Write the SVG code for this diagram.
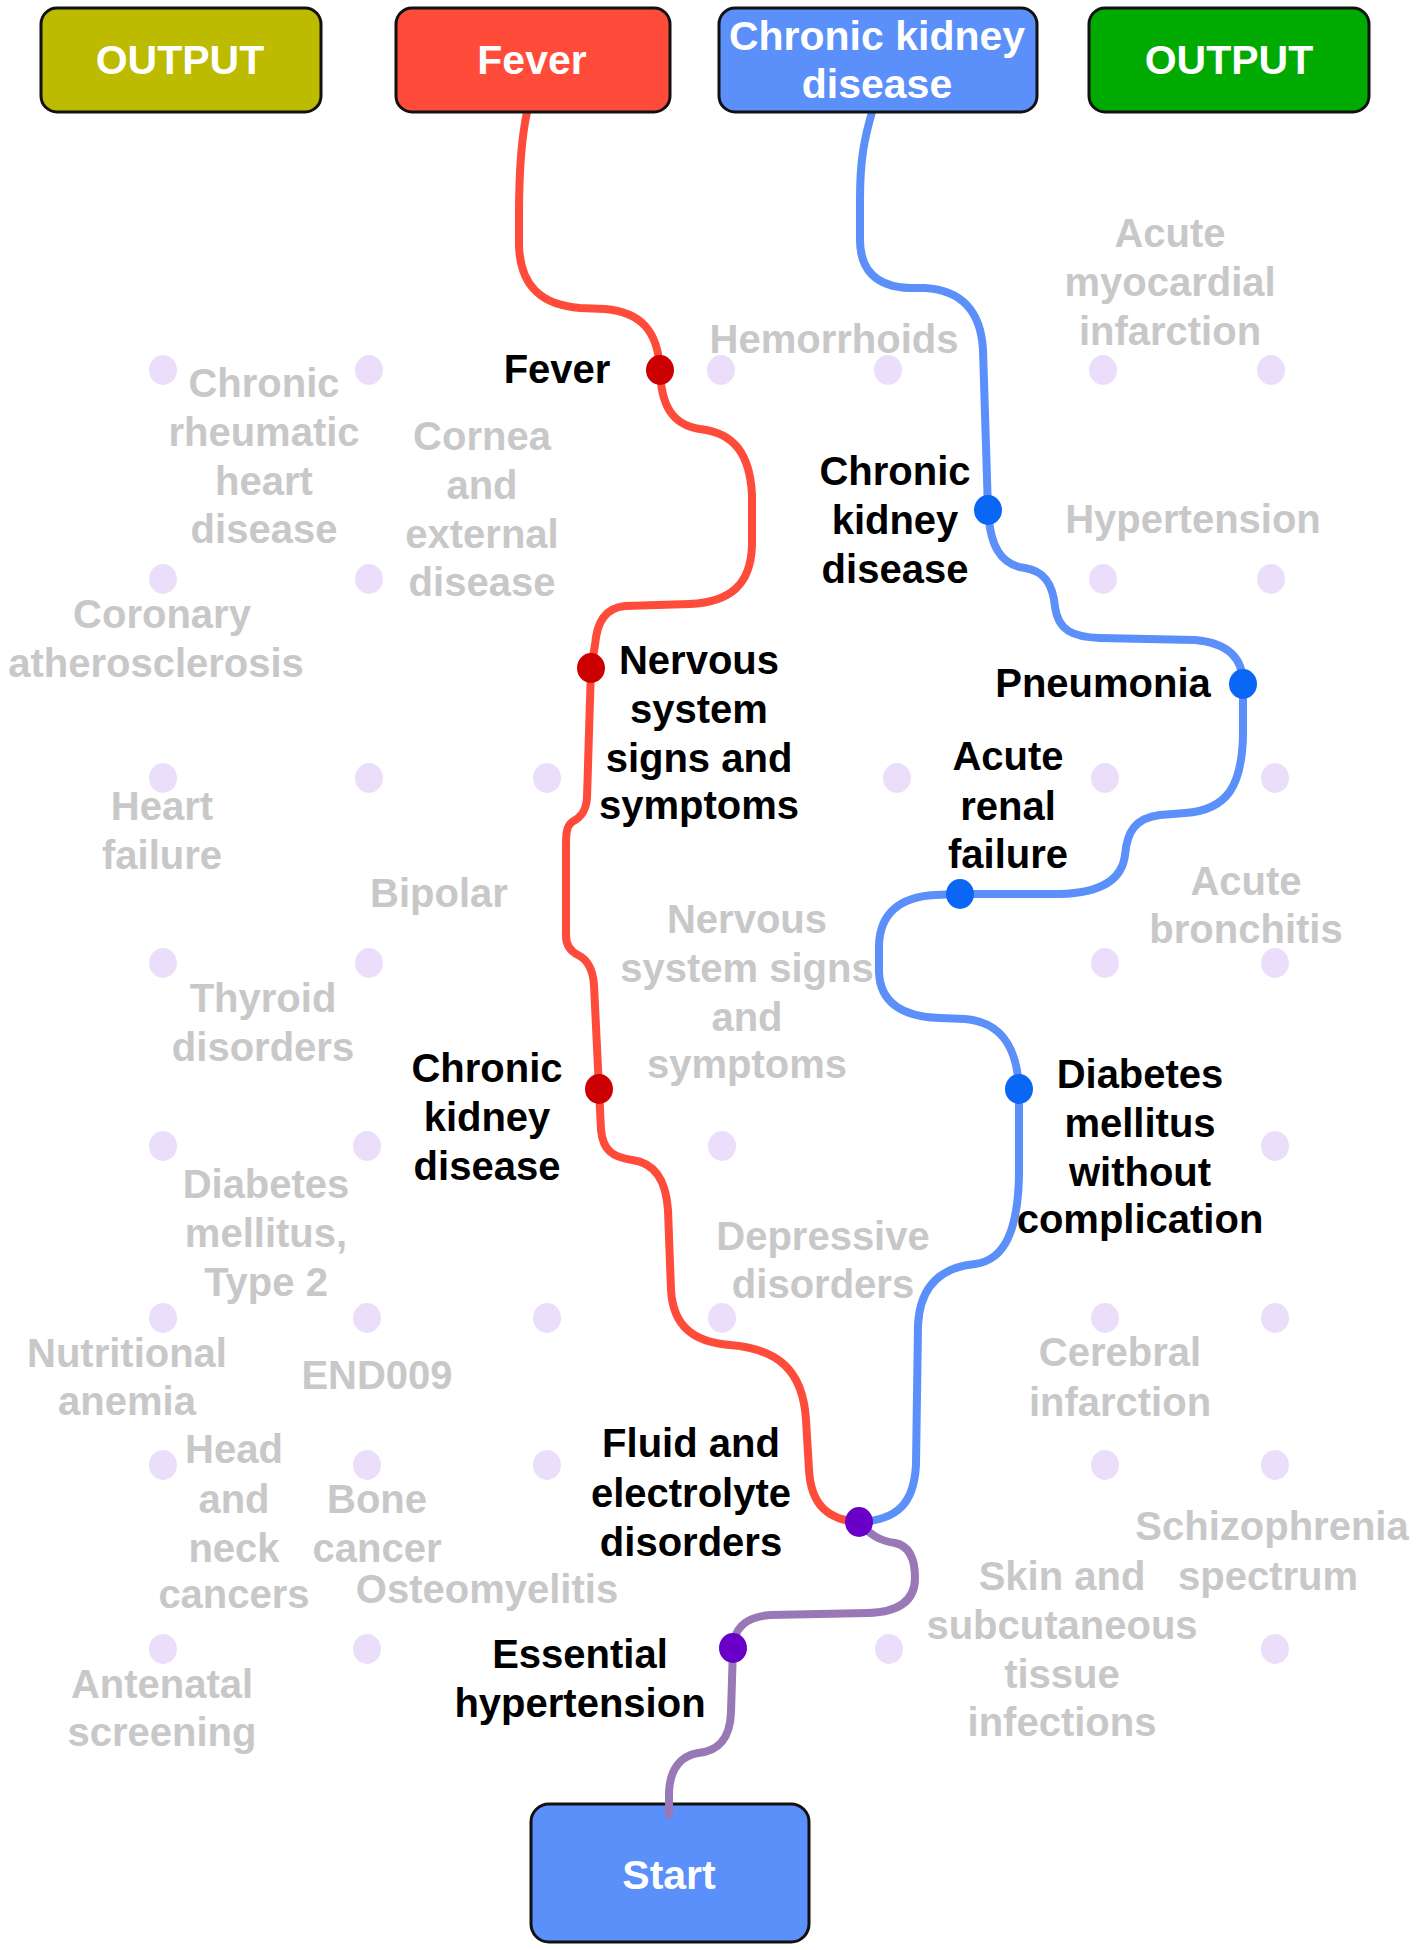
<svg xmlns="http://www.w3.org/2000/svg" width="1416" height="1950" viewBox="0 0 1416 1950">
  <style>
    text { font-family: "Liberation Sans", Arial, sans-serif; font-weight: bold; text-anchor: middle; }
    .box { stroke: #111; stroke-width: 3; }
    .boxtxt { fill: #fff; font-size: 41px; }
    .lbl { fill: #000; font-size: 40px; }
    .ghost { fill: #c8c8c8; font-size: 40px; }
    .grid ellipse { fill: #ebdefb; }
    .wire { fill: none; stroke-width: 8; stroke-linecap: round; stroke-linejoin: round; }
    .red { stroke: #ff4b3a; }
    .blue { stroke: #5b8ff9; }
    .purple { stroke: #9878b6; }
    .dot-red { fill: #cc0000; }
    .dot-blue { fill: #0a66f5; }
    .dot-purple { fill: #6a00c8; }
  </style>
  <rect width="1416" height="1950" fill="#fff"/>

  <!-- background grid of unused positions -->
  <g class="grid" id="grid">
    <ellipse cx="163" cy="370" rx="14" ry="15"/><ellipse cx="369" cy="370" rx="14" ry="15"/>
    <ellipse cx="721" cy="370" rx="14" ry="15"/><ellipse cx="888" cy="370" rx="14" ry="15"/>
    <ellipse cx="1103" cy="370" rx="14" ry="15"/><ellipse cx="1271" cy="370" rx="14" ry="15"/>

    <ellipse cx="163" cy="579" rx="14" ry="15"/><ellipse cx="369" cy="579" rx="14" ry="15"/>
    <ellipse cx="1103" cy="579" rx="14" ry="15"/><ellipse cx="1271" cy="579" rx="14" ry="15"/>

    <ellipse cx="163" cy="778" rx="14" ry="15"/><ellipse cx="369" cy="778" rx="14" ry="15"/>
    <ellipse cx="547" cy="778" rx="14" ry="15"/><ellipse cx="897" cy="778" rx="14" ry="15"/>
    <ellipse cx="1105" cy="778" rx="14" ry="15"/><ellipse cx="1275" cy="778" rx="14" ry="15"/>

    <ellipse cx="163" cy="963" rx="14" ry="15"/><ellipse cx="369" cy="963" rx="14" ry="15"/>
    <ellipse cx="1105" cy="963" rx="14" ry="15"/><ellipse cx="1275" cy="963" rx="14" ry="15"/>

    <ellipse cx="163" cy="1146" rx="14" ry="15"/><ellipse cx="367" cy="1146" rx="14" ry="15"/>
    <ellipse cx="722" cy="1146" rx="14" ry="15"/><ellipse cx="1275" cy="1146" rx="14" ry="15"/>

    <ellipse cx="163" cy="1318" rx="14" ry="15"/><ellipse cx="367" cy="1318" rx="14" ry="15"/>
    <ellipse cx="547" cy="1318" rx="14" ry="15"/><ellipse cx="722" cy="1318" rx="14" ry="15"/>
    <ellipse cx="1105" cy="1318" rx="14" ry="15"/><ellipse cx="1275" cy="1318" rx="14" ry="15"/>

    <ellipse cx="163" cy="1465" rx="14" ry="15"/><ellipse cx="367" cy="1465" rx="14" ry="15"/>
    <ellipse cx="547" cy="1465" rx="14" ry="15"/><ellipse cx="1105" cy="1465" rx="14" ry="15"/>
    <ellipse cx="1275" cy="1465" rx="14" ry="15"/>

    <ellipse cx="163" cy="1649" rx="14" ry="15"/><ellipse cx="367" cy="1649" rx="14" ry="15"/>
    <ellipse cx="889" cy="1649" rx="14" ry="15"/><ellipse cx="1275" cy="1649" rx="14" ry="15"/>
  </g>

  <!-- inactive condition labels -->
  <g id="inactive-labels" class="ghost">
    <text x="264"><tspan x="264" y="397">Chronic</tspan><tspan x="264" y="446">rheumatic</tspan><tspan x="264" y="495">heart</tspan><tspan x="264" y="543">disease</tspan></text>
    <text x="482"><tspan x="482" y="450">Cornea</tspan><tspan x="482" y="499">and</tspan><tspan x="482" y="548">external</tspan><tspan x="482" y="596">disease</tspan></text>
    <text x="157"><tspan x="162" y="628">Coronary</tspan><tspan x="156" y="677">atherosclerosis</tspan></text>
    <text x="162"><tspan x="162" y="820">Heart</tspan><tspan x="162" y="869">failure</tspan></text>
    <text x="439" y="907">Bipolar</text>
    <text x="263"><tspan x="263" y="1012">Thyroid</tspan><tspan x="263" y="1061">disorders</tspan></text>
    <text x="266"><tspan x="266" y="1198">Diabetes</tspan><tspan x="266" y="1247">mellitus,</tspan><tspan x="266" y="1296">Type 2</tspan></text>
    <text x="127"><tspan x="127" y="1367">Nutritional</tspan><tspan x="127" y="1415">anemia</tspan></text>
    <text x="377" y="1389">END009</text>
    <text x="234"><tspan x="234" y="1463">Head</tspan><tspan x="234" y="1513">and</tspan><tspan x="234" y="1562">neck</tspan><tspan x="234" y="1608">cancers</tspan></text>
    <text x="377"><tspan x="377" y="1513">Bone</tspan><tspan x="377" y="1562">cancer</tspan></text>
    <text x="487" y="1603">Osteomyelitis</text>
    <text x="162"><tspan x="162" y="1698">Antenatal</tspan><tspan x="162" y="1746">screening</tspan></text>
    <text x="834" y="353">Hemorrhoids</text>
    <text x="1170"><tspan x="1170" y="247">Acute</tspan><tspan x="1170" y="296">myocardial</tspan><tspan x="1170" y="345">infarction</tspan></text>
    <text x="1193" y="533">Hypertension</text>
    <text x="1246"><tspan x="1246" y="895">Acute</tspan><tspan x="1246" y="943">bronchitis</tspan></text>
    <text x="747"><tspan x="747" y="933">Nervous</tspan><tspan x="747" y="982">system signs</tspan><tspan x="747" y="1031">and</tspan><tspan x="747" y="1078">symptoms</tspan></text>
    <text x="823"><tspan x="823" y="1250">Depressive</tspan><tspan x="823" y="1298">disorders</tspan></text>
    <text x="1120"><tspan x="1120" y="1366">Cerebral</tspan><tspan x="1120" y="1416">infarction</tspan></text>
    <text x="1270"><tspan x="1272" y="1540">Schizophrenia</tspan><tspan x="1268" y="1590">spectrum</tspan></text>
    <text x="1062"><tspan x="1062" y="1590">Skin and</tspan><tspan x="1062" y="1639">subcutaneous</tspan><tspan x="1062" y="1688">tissue</tspan><tspan x="1062" y="1736">infections</tspan></text>
  </g>

  <!-- start box sits under the incoming trajectory tip -->
  <g id="box-start">
    <rect class="box" x="531" y="1804" width="278" height="138" rx="18" fill="#5b8ff9"/>
    <text class="boxtxt" x="669" y="1889">Start</text>
  </g>

  <!-- trajectories -->
  <g id="connectors">
    <path class="wire red" d="M 527 112 C 521 140, 519 170, 519 215 L 519 245 C 520 285, 540 305, 580 308 L 605 309 C 640 312, 658 330, 660 370
             C 661 405, 672 425, 700 429 C 735 433, 750 455, 752 495 L 752 545 C 751 585, 730 602, 690 604 L 625 606 C 605 608, 597 622, 595 645 L 591 668
             L 587 798 C 586 812, 580 818, 572 822 C 567 826, 566 832, 566 845 L 566 936 C 566 945, 570 951, 578 955 C 588 960, 593 970, 594 985 L 599 1089
             L 601 1130 C 603 1150, 612 1157, 632 1160 C 655 1163, 666 1180, 668 1210 L 671 1290 C 673 1325, 692 1342, 730 1345
             C 778 1349, 803 1370, 806 1420 L 809 1470 C 811 1505, 828 1520, 859 1522"/>
    <path class="wire blue" d="M 872 112 C 864 140, 860 160, 860 200 L 860 240 C 860 270, 876 287, 910 288 L 925 288 C 962 290, 981 312, 983 350 L 988 510
             C 990 545, 1000 565, 1025 568 C 1045 571, 1053 585, 1055 607 C 1058 630, 1072 637, 1100 638 L 1195 640 C 1228 643, 1243 658, 1243 684
             L 1243 735 C 1242 785, 1228 810, 1185 813 L 1160 815 C 1135 818, 1127 832, 1125 855 C 1122 880, 1100 893, 1060 894 L 960 894
             L 935 895 C 900 897, 880 913, 879 945 L 879 972 C 880 1003, 903 1017, 940 1018 L 965 1019 C 1000 1022, 1017 1045, 1019 1089
             L 1019 1175 C 1018 1230, 1005 1260, 975 1264 C 942 1267, 920 1285, 918 1325 L 916 1465 C 914 1503, 898 1520, 859 1522"/>
    <path class="wire purple" d="M 859 1522 C 870 1535, 880 1541, 895 1543 C 910 1546, 915 1560, 915 1578 C 915 1600, 900 1612, 868 1613 L 770 1615
             C 745 1617, 734 1628, 733 1648 L 731 1712 C 730 1742, 716 1751, 698 1753 C 680 1756, 670 1770, 669 1792 L 669 1815"/>
  </g>

  <!-- active waypoints -->
  <g id="node-fever">
    <ellipse class="dot-red" cx="660" cy="370" rx="14" ry="15"/>
    <text class="lbl" x="557" y="383">Fever</text>
  </g>
  <g id="node-nervous">
    <ellipse class="dot-red" cx="591" cy="668" rx="14" ry="15"/>
    <text class="lbl"><tspan x="699" y="674">Nervous</tspan><tspan x="699" y="723">system</tspan><tspan x="699" y="772">signs and</tspan><tspan x="699" y="819">symptoms</tspan></text>
  </g>
  <g id="node-ckd-red">
    <ellipse class="dot-red" cx="599" cy="1089" rx="14" ry="15"/>
    <text class="lbl"><tspan x="487" y="1082">Chronic</tspan><tspan x="487" y="1131">kidney</tspan><tspan x="487" y="1180">disease</tspan></text>
  </g>
  <g id="node-ckd-blue">
    <ellipse class="dot-blue" cx="988" cy="510" rx="14" ry="15"/>
    <text class="lbl"><tspan x="895" y="485">Chronic</tspan><tspan x="895" y="534">kidney</tspan><tspan x="895" y="583">disease</tspan></text>
  </g>
  <g id="node-pneumonia">
    <ellipse class="dot-blue" cx="1243" cy="684" rx="14" ry="15"/>
    <text class="lbl" x="1103" y="697">Pneumonia</text>
  </g>
  <g id="node-renal">
    <ellipse class="dot-blue" cx="960" cy="894" rx="14" ry="15"/>
    <text class="lbl"><tspan x="1008" y="770">Acute</tspan><tspan x="1008" y="820">renal</tspan><tspan x="1008" y="868">failure</tspan></text>
  </g>
  <g id="node-diabetes">
    <ellipse class="dot-blue" cx="1019" cy="1089" rx="14" ry="15"/>
    <text class="lbl"><tspan x="1140" y="1088">Diabetes</tspan><tspan x="1140" y="1137">mellitus</tspan><tspan x="1140" y="1186">without</tspan><tspan x="1140" y="1233">complication</tspan></text>
  </g>
  <g id="node-fluid">
    <ellipse class="dot-purple" cx="859" cy="1522" rx="14" ry="15"/>
    <text class="lbl"><tspan x="691" y="1457">Fluid and</tspan><tspan x="691" y="1507">electrolyte</tspan><tspan x="691" y="1556">disorders</tspan></text>
  </g>
  <g id="node-essential">
    <ellipse class="dot-purple" cx="733" cy="1648" rx="14" ry="15"/>
    <text class="lbl"><tspan x="580" y="1668">Essential</tspan><tspan x="580" y="1717">hypertension</tspan></text>
  </g>

  <!-- terminal boxes -->
  <g id="box-output-left">
    <rect class="box" x="41" y="8" width="280" height="104" rx="16" fill="#bcbb00"/>
    <text class="boxtxt" x="180" y="74">OUTPUT</text>
  </g>
  <g id="box-fever">
    <rect class="box" x="396" y="8" width="274" height="104" rx="16" fill="#ff4b3a"/>
    <text class="boxtxt" x="532" y="74">Fever</text>
  </g>
  <g id="box-ckd">
    <rect class="box" x="719" y="8" width="318" height="104" rx="16" fill="#5b8ff9"/>
    <text class="boxtxt"><tspan x="877" y="50">Chronic kidney</tspan><tspan x="877" y="98">disease</tspan></text>
  </g>
  <g id="box-output-right">
    <rect class="box" x="1089" y="8" width="280" height="104" rx="16" fill="#00aa00"/>
    <text class="boxtxt" x="1229" y="74">OUTPUT</text>
  </g>
</svg>
